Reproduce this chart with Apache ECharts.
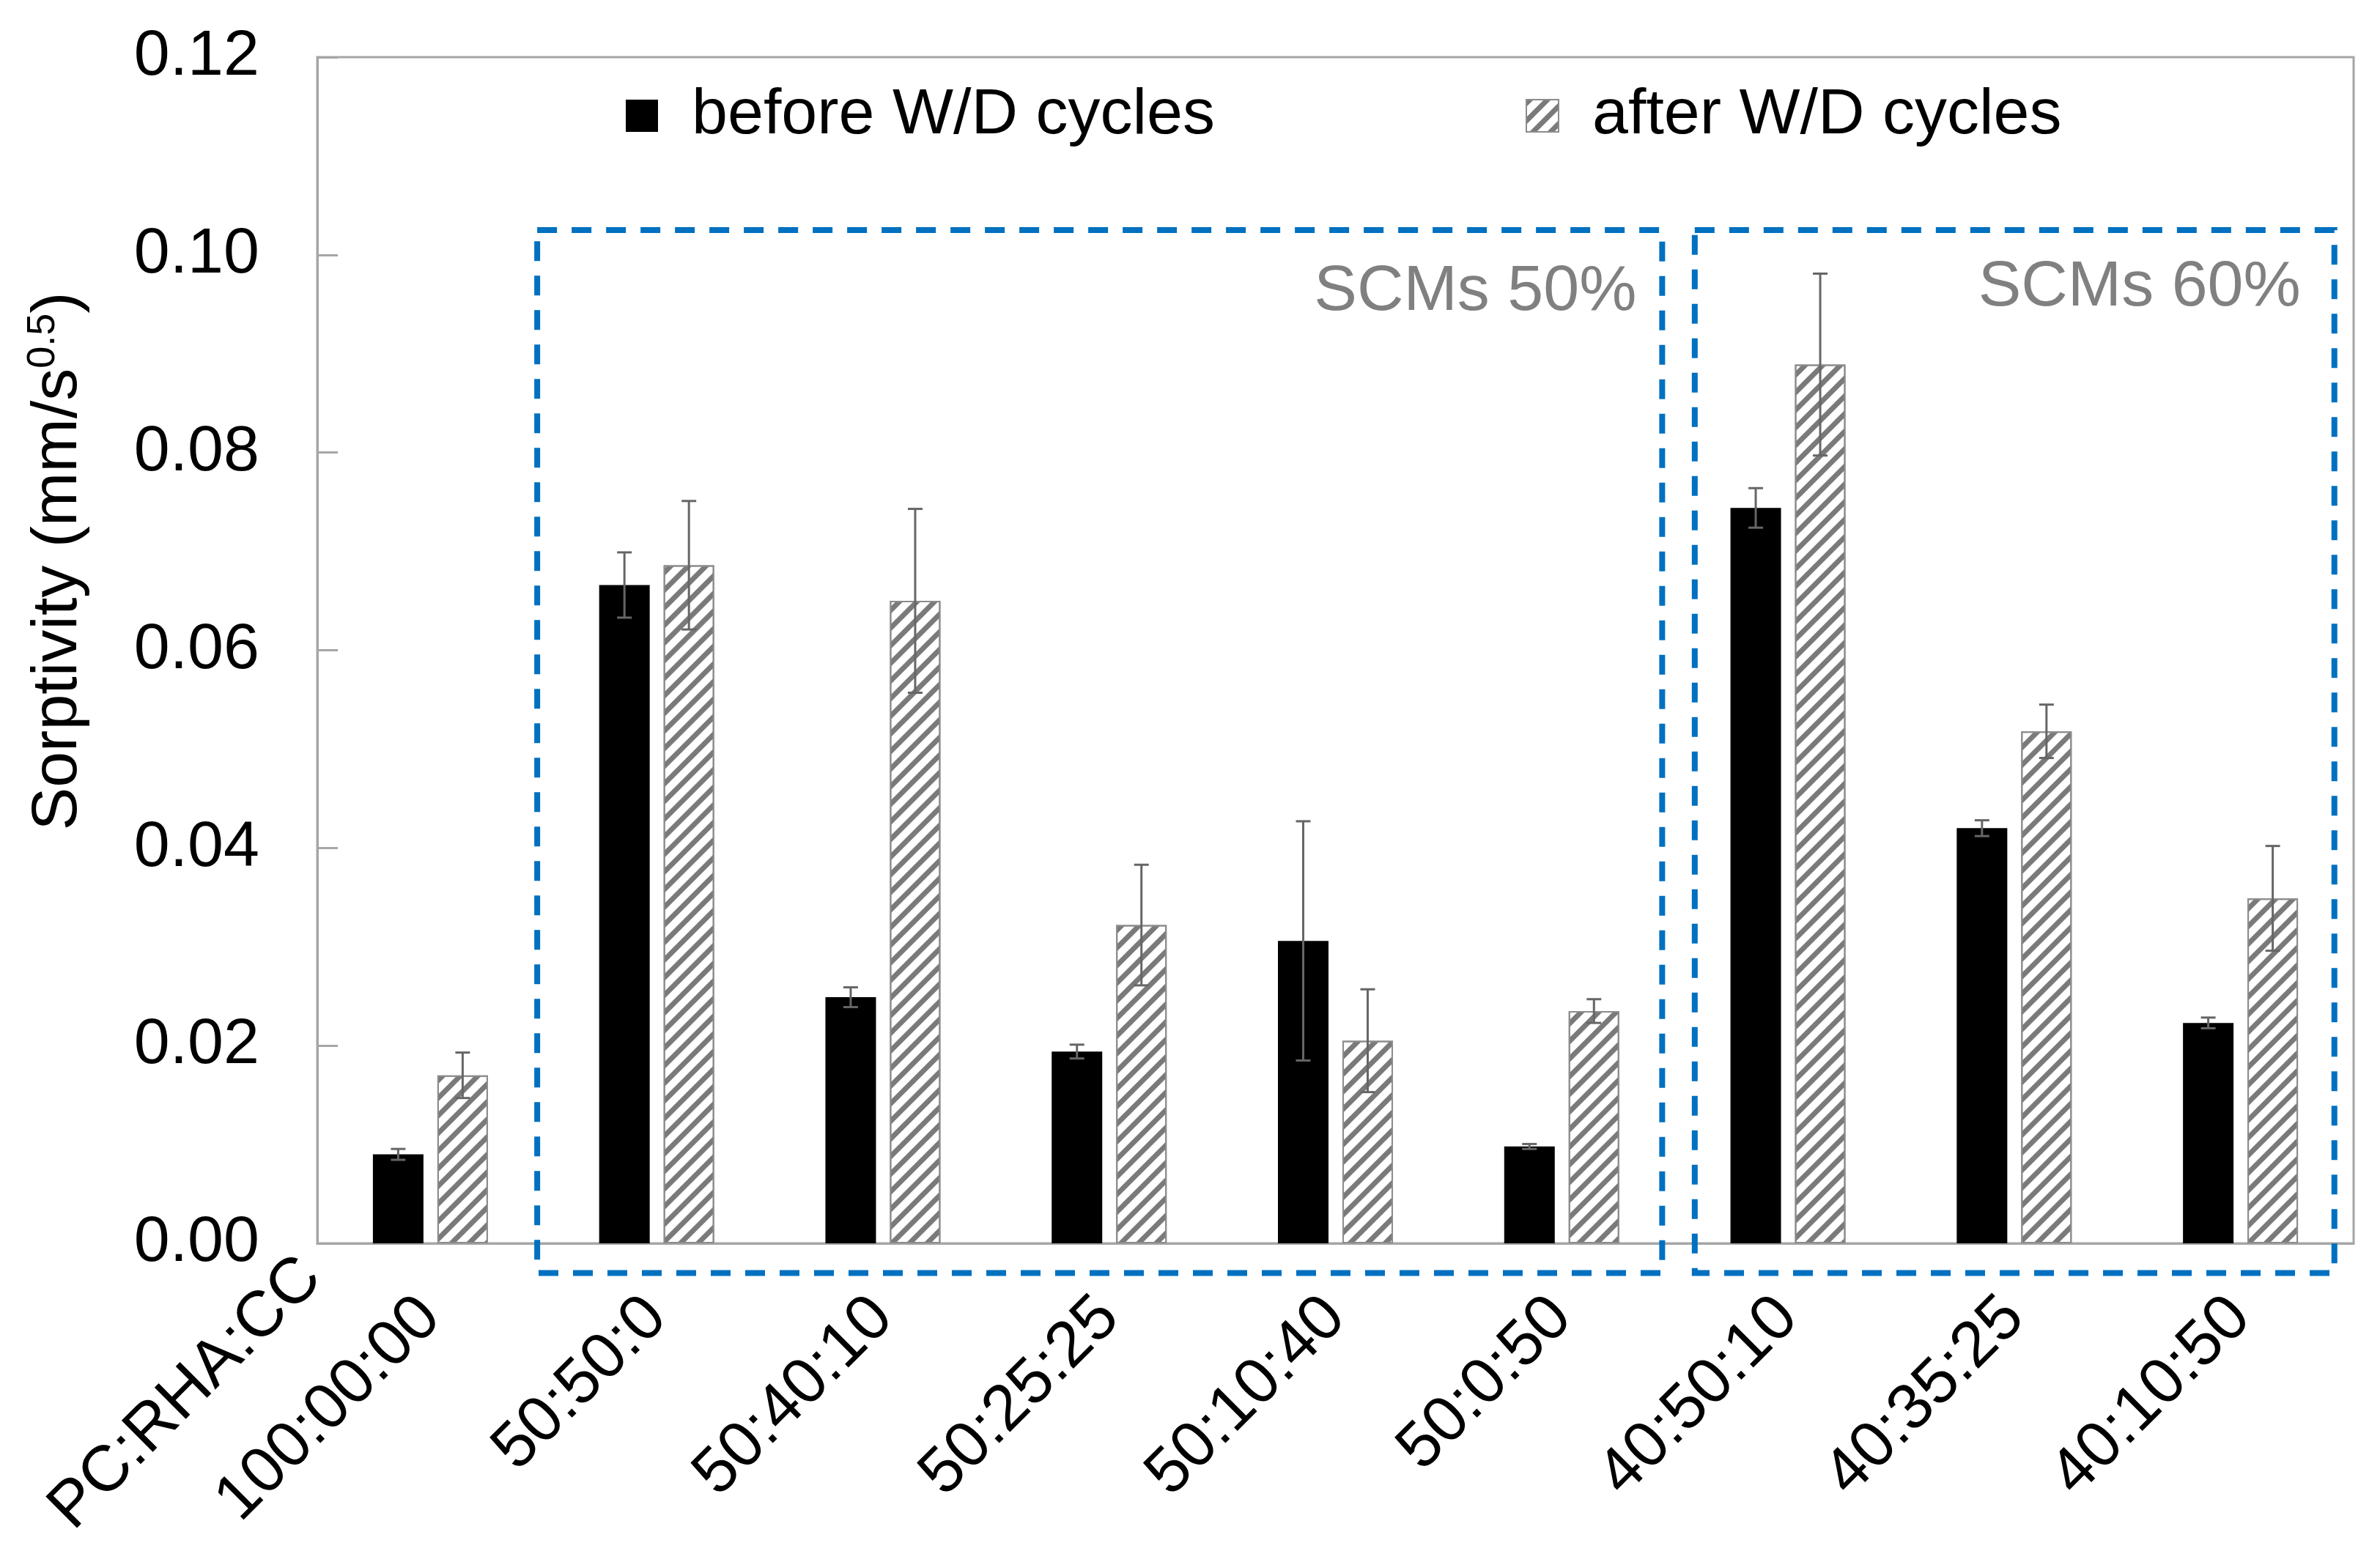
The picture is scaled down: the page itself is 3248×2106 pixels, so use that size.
<!DOCTYPE html>
<html><head><meta charset="utf-8">
<script src="https://cdn.jsdelivr.net/npm/echarts@6/dist/echarts.min.js"></script>
<style>html,body{margin:0;padding:0;background:#fff}#c{width:3248px;height:2106px}</style>
</head><body><div id="c"></div>
<script>
const categories = ['100:00:00','50:50:0','50:40:10','50:25:25','50:10:40','50:0:50','40:50:10','40:35:25','40:10:50'];
const beforeVals = [0.0090, 0.0666, 0.0249, 0.0194, 0.0306, 0.0098, 0.0744, 0.0420, 0.0223];
const beforeErr  = [0.00055, 0.0033, 0.0010, 0.0007, 0.0121, 0.00025, 0.0020, 0.0008, 0.00054];
const afterVals  = [0.0170, 0.0686, 0.0650, 0.0322, 0.0205, 0.0235, 0.0889, 0.0518, 0.0349];
const afterErr   = [0.0023, 0.0065, 0.0093, 0.0061, 0.0052, 0.0012, 0.0092, 0.0027, 0.0053];
const yTicks = [0, 0.02, 0.04, 0.06, 0.08, 0.10, 0.12];
const seriesNames = ['before W/D cycles', 'after W/D cycles'];
const groupLabels = ['SCMs 50%', 'SCMs 60%'];
const axisCornerLabel = 'PC:RHA:CC';

const FONT = '"Liberation Sans", Arial, sans-serif';
const FS = 88;
const BAR_W = 69, BAR_GAP = 19, OFF = (BAR_W + BAR_GAP) / 2;
const AXIS_GRAY = '#a6a6a6';

const chart = echarts.init(document.getElementById('c'));

function errRender(offset) {
  return function (params, api) {
    const i = api.value(0), v = api.value(1), e = api.value(2);
    const x = api.coord([i, v])[0] + offset;
    const yT = api.coord([i, v + e])[1];
    const yB = api.coord([i, v - e])[1];
    const cap = 10;
    const st = { stroke: '#666666', lineWidth: 3 };
    return { type: 'group', children: [
      { type: 'line', shape: { x1: x, y1: yT, x2: x, y2: yB }, style: st },
      { type: 'line', shape: { x1: x - cap, y1: yT, x2: x + cap, y2: yT }, style: st },
      { type: 'line', shape: { x1: x - cap, y1: yB, x2: x + cap, y2: yB }, style: st }
    ]};
  };
}

const legendBase = {
  orient: 'horizontal', top: 114, padding: 0, itemWidth: 44, itemHeight: 44,
  selectedMode: false, icon: 'rect',
  textStyle: { fontSize: FS, fontFamily: FONT, color: '#000', lineHeight: 88, padding: [0, 0, 0, 41] }
};

chart.setOption({
  animation: false,
  backgroundColor: '#fff',
  grid: { left: 433, right: 36, top: 78, bottom: 409, show: true, borderColor: AXIS_GRAY, borderWidth: 3, containLabel: false },
  legend: [
    Object.assign({}, legendBase, { left: 854, data: [seriesNames[0]] }),
    Object.assign({}, legendBase, { left: 2082, data: [seriesNames[1]] })
  ],
  xAxis: {
    type: 'category', data: categories, boundaryGap: true,
    axisLine: { lineStyle: { color: AXIS_GRAY, width: 3 } },
    axisTick: { show: false },
    axisLabel: { interval: 0, rotate: 45, fontSize: FS, fontFamily: FONT, color: '#000', margin: 88 }
  },
  yAxis: {
    type: 'value', min: yTicks[0], max: yTicks[yTicks.length - 1], interval: 0.02,
    axisLine: { show: true, lineStyle: { color: AXIS_GRAY, width: 3 } },
    axisTick: { show: true, inside: true, length: 28, lineStyle: { color: AXIS_GRAY, width: 3 } },
    splitLine: { show: false },
    axisLabel: { fontSize: FS, fontFamily: FONT, color: '#000', margin: 79, formatter: v => v.toFixed(2) }
  },
  series: [
    { name: seriesNames[0], type: 'bar', data: beforeVals, barWidth: BAR_W, barGap: (BAR_GAP / BAR_W * 100).toFixed(1) + '%',
      itemStyle: { color: '#000' } },
    { name: seriesNames[1], type: 'bar', data: afterVals, barWidth: BAR_W,
      itemStyle: { color: '#fff', borderColor: '#8c8c8c', borderWidth: 2,
        decal: { symbol: 'rect', symbolSize: 1, dashArrayX: [1, 0], dashArrayY: [7, 10], rotation: -Math.PI / 4, color: '#7a7a7a' } } },
    { name: 'errBefore', type: 'custom', renderItem: errRender(-OFF), data: beforeVals.map((v, i) => [i, v, beforeErr[i]]), encode: { x: 0, y: 1 }, z: 10 },
    { name: 'errAfter', type: 'custom', renderItem: errRender(OFF), data: afterVals.map((v, i) => [i, v, afterErr[i]]), encode: { x: 0, y: 1 }, z: 10 }
  ]
});

// annotations positioned through the axes
const x0 = chart.convertToPixel({ xAxisIndex: 0 }, 0);
const x1 = chart.convertToPixel({ xAxisIndex: 0 }, 1);
const bw = x1 - x0;
const px = i => x0 + i * bw;
const py = v => chart.convertToPixel({ yAxisIndex: 0 }, v);
const yTopBox = py(0.1025), yBotBox = py(-0.0030);
const boxes = [[0.472, 5.444], [5.588, 8.415]];
const boxStyle = { fill: null, stroke: '#0070c0', lineWidth: 8, lineDash: [27, 20] };
const graphics = [];
boxes.forEach((b, k) => {
  const l = px(b[0]), r = px(b[1]);
  graphics.push({ type: 'rect', shape: { x: l, y: yTopBox, width: r - l, height: yBotBox - yTopBox }, style: boxStyle, z: 5, silent: true });
});
graphics.push({ type: 'text', x: px(5.444) - 35, y: py(0.0962), style: { text: groupLabels[0], fill: '#808080', font: FS + 'px ' + FONT, textAlign: 'right', textVerticalAlign: 'middle' }, z: 6 });
graphics.push({ type: 'text', x: px(8.415) - 46, y: py(0.0967), style: { text: groupLabels[1], fill: '#808080', font: FS + 'px ' + FONT, textAlign: 'right', textVerticalAlign: 'middle' }, z: 6 });
// y axis name
graphics.push({ type: 'text', x: 80, y: 766, rotation: Math.PI / 2,
  style: { text: '{a|Sorptivity (mm/s}{b|0.5}{a|)}', textAlign: 'center', textVerticalAlign: 'middle',
    rich: { a: { fontSize: FS, fontFamily: FONT, fill: '#000', color: '#000', lineHeight: 96 }, b: { fontSize: 54, fontFamily: FONT, color: '#000', verticalAlign: 'top', lineHeight: 96 } } }, z: 6 });
// corner label
graphics.push({ type: 'text', x: px(-0.5) - 8, y: py(0) + 34, rotation: Math.PI / 4,
  style: { text: axisCornerLabel, font: FS + 'px ' + FONT, fill: '#000', textAlign: 'right', textVerticalAlign: 'middle' }, z: 6 });
chart.setOption({ graphic: graphics });
</script></body></html>
